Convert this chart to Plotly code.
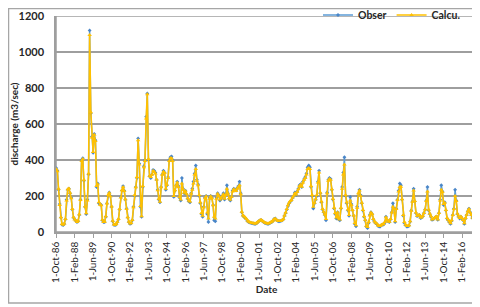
import pandas as pd
import plotly.graph_objects as go

start_month = "1986-10-01"
series_names = ["Obser", "Calcu."]

obser = [
    355, 340, 235, 155, 80, 42, 38, 45, 70, 180, 235, 240,
    215, 190, 125, 80, 70, 62, 55, 60, 95, 180, 400, 410,
    285, 140, 100, 180, 320, 1120, 660, 530, 440, 545, 510, 250,
    270, 160, 155, 150, 65, 55, 55, 85, 160, 200, 220, 200,
    140, 60, 40, 38, 42, 55, 70, 125, 195, 230, 255, 230,
    180, 130, 80, 55, 45, 48, 65, 140, 200, 250, 300, 520,
    380, 140, 85, 250, 365, 400, 640, 770, 400, 310, 300, 320,
    345, 340, 330, 290, 235, 180, 165, 250, 320, 340, 330, 235,
    260, 305, 400, 415, 420, 400, 195, 230, 260, 280, 255, 190,
    175, 300, 240, 215, 230, 210, 185, 170, 165, 215, 240, 280,
    325, 370, 290, 265, 200, 160, 100, 85, 140, 190, 200, 100,
    55, 190, 200, 190, 150, 65, 60, 190, 215, 205, 175, 185,
    200, 215, 180, 210, 260, 215, 185, 175, 195, 230, 240, 235,
    230, 245, 255, 280, 215, 110, 90, 85, 78, 70, 60, 55,
    52, 50, 48, 47, 45, 45, 50, 55, 62, 66, 65, 60,
    55, 50, 48, 45, 45, 48, 52, 55, 62, 72, 75, 68,
    62, 60, 60, 62, 65, 70, 90, 105, 125, 145, 160, 170,
    175, 190, 200, 220, 205, 225, 240, 260, 265, 250, 280, 295,
    305, 325, 360, 370, 360, 250, 200, 130, 160, 180, 200, 280,
    340, 215, 165, 125, 110, 95, 65, 220, 290, 300, 295, 235,
    180, 130, 100, 75, 110, 70, 65, 130, 250, 330, 415, 200,
    160, 120, 90, 195, 155, 120, 90, 45, 32, 140, 200, 235,
    205, 160, 120, 85, 65, 30, 22, 50, 95, 110, 100, 70,
    58, 50, 45, 35, 30, 30, 38, 40, 42, 52, 85, 65,
    58, 55, 70, 110, 160, 130, 55, 130, 180, 230, 270, 260,
    180, 90, 50, 38, 30, 30, 35, 58, 120, 170, 240, 170,
    105, 88, 92, 95, 78, 80, 88, 105, 125, 175, 250, 120,
    100, 85, 68, 70, 76, 82, 85, 68, 105, 180, 260, 225,
    150, 165, 120, 75, 65, 55, 45, 62, 95, 130, 235, 175,
    100, 85, 75, 85, 75, 65, 45, 75, 95, 115, 130, 110,
    95, 78, 75, 75, 75, 75,
]

calcu = [
    350, 338, 240, 150, 82, 44, 40, 47, 72, 175, 238, 242,
    218, 188, 128, 82, 70, 64, 56, 62, 98, 178, 395, 405,
    290, 142, 104, 175, 325, 1095, 665, 525, 445, 540, 505, 255,
    265, 165, 152, 148, 68, 56, 57, 88, 158, 205, 218, 198,
    142, 62, 42, 40, 44, 56, 72, 128, 192, 232, 250, 228,
    182, 128, 82, 57, 47, 50, 67, 138, 205, 248, 305, 510,
    375, 145, 88, 255, 360, 395, 630, 765, 405, 312, 305, 318,
    340, 335, 325, 292, 232, 185, 168, 248, 318, 335, 328, 240,
    262, 300, 395, 410, 410, 395, 200, 232, 258, 275, 250, 195,
    180, 270, 235, 218, 228, 212, 188, 175, 170, 212, 235, 270,
    320, 350, 285, 260, 205, 165, 105, 90, 138, 188, 198, 108,
    75, 185, 198, 188, 148, 85, 75, 185, 212, 200, 180, 188,
    198, 210, 185, 205, 240, 212, 188, 180, 195, 225, 238, 232,
    228, 240, 250, 260, 210, 112, 92, 86, 80, 72, 62, 57,
    54, 52, 50, 48, 47, 47, 52, 57, 63, 67, 66, 61,
    57, 52, 50, 47, 47, 50, 54, 57, 63, 72, 74, 68,
    63, 61, 61, 63, 66, 72, 92, 108, 128, 148, 162, 172,
    178, 192, 202, 215, 208, 222, 238, 255, 262, 252, 275, 290,
    300, 320, 350, 355, 350, 255, 205, 140, 162, 182, 205, 275,
    330, 220, 170, 128, 112, 98, 72, 215, 285, 295, 290, 238,
    185, 135, 105, 80, 108, 75, 70, 135, 240, 320, 375, 205,
    165, 125, 95, 175, 150, 122, 92, 50, 38, 135, 215, 230,
    200, 162, 122, 88, 68, 35, 28, 55, 92, 108, 100, 72,
    60, 52, 47, 38, 33, 33, 40, 42, 45, 55, 82, 66,
    60, 57, 72, 108, 140, 128, 60, 128, 178, 225, 250, 252,
    182, 95, 55, 42, 34, 34, 38, 60, 118, 168, 230, 172,
    108, 90, 93, 95, 80, 82, 90, 105, 125, 172, 225, 125,
    102, 87, 70, 72, 78, 83, 86, 70, 105, 175, 235, 222,
    155, 162, 122, 78, 68, 58, 48, 65, 95, 128, 200, 172,
    102, 87, 78, 86, 77, 67, 48, 78, 96, 115, 128, 108,
    95, 80, 76, 76, 76, 76,
]

y_ticks = [0, 200, 400, 600, 800, 1000, 1200]
y_tick_text = ["<b>%d</b>" % v for v in y_ticks]

dates = pd.date_range(start_month, periods=len(obser), freq="MS")
x_start = pd.Timestamp("1986-09-25")
x_end = dates[-1]

FONT = "Lato"
TXT = "#262626"
GRID = "#9E9E9E"

fig = go.Figure()

# horizontal grid and the left axis line, drawn through the axes
grid_x, grid_y = [], []
for v in y_ticks:
    grid_x += [x_start, x_end, None]
    grid_y += [v, v, None]
grid_x += [x_start, x_start]
grid_y += [y_ticks[0], y_ticks[-1]]
fig.add_trace(go.Scatter(
    x=grid_x, y=grid_y, mode="lines", line=dict(color=GRID, width=1.5),
    hoverinfo="skip", showlegend=False, connectgaps=False,
))

fig.add_trace(go.Scatter(
    x=dates, y=obser, name="<b>%s</b>" % series_names[0], mode="lines+markers",
    line=dict(color="#5B9BD5", width=1.5),
    marker=dict(symbol="diamond", size=3, color="#4A86C8"),
))
fig.add_trace(go.Scatter(
    x=dates, y=calcu, name="<b>%s</b>" % series_names[1], mode="lines+markers",
    line=dict(color="#FFC000", width=1.6),
    marker=dict(symbol="triangle-up", size=4, color="#FFC000"),
))

# page body has an 8px default margin: work in window pixels, subtract offset
OFF = 8
W, H = 480 - OFF, 307 - OFF
L, T = 56 - OFF, 16 - OFF
R = W - (477 - OFF)
B = H - (232 - OFF)
pw, ph = W - L - R, H - T - B

def px(xw):
    return (xw - OFF - L) / pw

def py(yw):
    return (H - B - (yw - OFF)) / ph

fig.update_layout(
    width=W, height=H,
    margin=dict(l=L, r=R, t=T, b=B, autoexpand=False),
    plot_bgcolor="white",
    template="none",
    font=dict(family=FONT, color=TXT),
    showlegend=True,
    legend=dict(
        orientation="h",
        x=px(466), xanchor="right", y=py(15), yanchor="middle",
        font=dict(family=FONT, size=10.5, color=TXT),
        bgcolor="rgba(0,0,0,0)",
    ),
    shapes=[dict(
        type="rect", xref="paper", yref="paper",
        x0=px(8.5), x1=px(478), y0=py(303), y1=py(8.5),
        line=dict(color="#A6A6A6", width=1.5),
    )],
)

fig.layout.yaxis.update(
    range=[y_ticks[0], y_ticks[-1]], tickmode="array", tickvals=y_ticks, ticktext=y_tick_text,
    automargin=False,
    showgrid=True, gridcolor=GRID, gridwidth=1.5,
    showline=True, linecolor=GRID, linewidth=1.5,
    ticklabelstandoff=8,
    tickfont=dict(family=FONT, size=11, color=TXT),
    title=dict(text="<b>discharge (m3/sec)</b>", font=dict(family=FONT, size=10, color=TXT), standoff=4),
    zeroline=False,
)
fig.layout.xaxis.update(
    type="date", automargin=False,
    range=[x_start, x_end],
    tick0=start_month, dtick="M16", tickformat="1-%b-%y", tickangle=-90,
    showgrid=False,
    showline=True, linecolor=GRID, linewidth=1.5,
    ticks="outside", ticklen=4, tickcolor=GRID,
    tickfont=dict(family=FONT, size=10, color=TXT),
    title=dict(text="<b>Date</b>", font=dict(family=FONT, size=10, color=TXT), standoff=4),
    zeroline=False,
)

fig.write_html("out.html")
